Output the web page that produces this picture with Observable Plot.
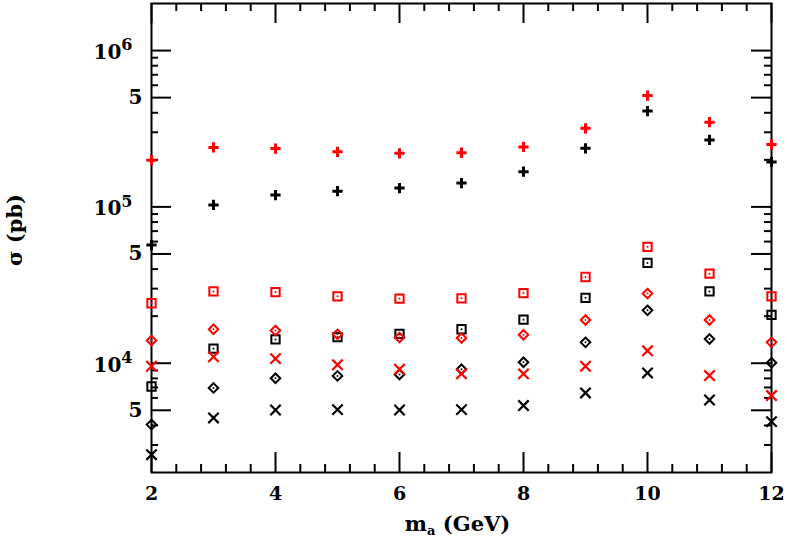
<!DOCTYPE html>
<html>
<head>
<meta charset="utf-8">
<script src="https://cdn.jsdelivr.net/npm/d3@7"></script>
<script src="https://cdn.jsdelivr.net/npm/@observablehq/plot@0.6"></script>
<style>
  html, body { margin: 0; padding: 0; background: #fff; }
  #chart svg { display: block; }
</style>
</head>
<body>
<div id="chart"></div>
<script>
// ---- data ----
const masses = [2, 3, 4, 5, 6, 7, 8, 9, 10, 11, 12];

const redPlus      = [199000, 240000, 236000, 225000, 220000, 222000, 242000, 318000, 515000, 348000, 251000];
const blackPlus    = [57000, 103000, 119000, 126000, 132000, 142000, 168000, 237000, 410000, 268000, 194000];
const redSquare    = [24200, 28800, 28500, 26800, 25900, 26000, 28100, 35600, 55500, 37400, 26800];
const blackSquare  = [7100, 12400, 14200, 14700, 15400, 16500, 19000, 26200, 43800, 28800, 20400];
const redDiamond   = [13970, 16500, 16200, 15300, 14600, 14500, 15200, 18900, 27900, 18900, 13600];
const blackDiamond = [4050, 6950, 8010, 8300, 8470, 9150, 10150, 13600, 21800, 14300, 10060];
const redTimes     = [9570, 11000, 10700, 9770, 9150, 8550, 8550, 9570, 12000, 8340, 6210];
const blackTimes   = [2600, 4470, 5020, 5050, 5020, 5050, 5360, 6460, 8670, 5820, 4230];

// ---- ticks ----
const xMajorTicks = [2, 4, 6, 8, 10, 12];
const xMinorTicks = [2.4, 2.8, 3.2, 3.6, 4.4, 4.8, 5.2, 5.6, 6.4, 6.8, 7.2, 7.6,
                     8.4, 8.8, 9.2, 9.6, 10.4, 10.8, 11.2, 11.6];
const yDecadeTicks = [1e4, 1e5, 1e6];
const yFiveTicks = [5e3, 5e4, 5e5];
const yMinorTicks = [3e3, 4e3, 6e3, 7e3, 8e3, 9e3,
                     2e4, 3e4, 4e4, 6e4, 7e4, 8e4, 9e4,
                     2e5, 3e5, 4e5, 6e5, 7e5, 8e5, 9e5];
const yMajorTicks = yDecadeTicks.concat(yFiveTicks);

const xLabel = "m|a| (GeV)";
const yLabel = "σ (pb)";

// ---- series table ----
const series = [
  {values: redPlus, color: "#ff0000", kind: "plus"},
  {values: blackPlus, color: "#000000", kind: "plus"},
  {values: redSquare, color: "#ff0000", kind: "square"},
  {values: blackSquare, color: "#000000", kind: "square"},
  {values: redDiamond, color: "#ff0000", kind: "diamond"},
  {values: blackDiamond, color: "#000000", kind: "diamond"},
  {values: redTimes, color: "#ff0000", kind: "times"},
  {values: blackTimes, color: "#000000", kind: "times"}
];

function seriesMarks(s) {
  const rows = s.values.map((v, i) => ({x: masses[i], y: v}));
  const o = {x: "x", y: "y"};
  if (s.kind === "plus") {
    return [Plot.dot(rows, {...o, symbol: "plus", r: 3.4, stroke: s.color, fill: "none", strokeWidth: 3})];
  }
  if (s.kind === "square") {
    return [
      Plot.dot(rows, {...o, symbol: "square2", r: 5.3, stroke: s.color, fill: "none", strokeWidth: 2}),
      Plot.dot(rows, {...o, r: 1, fill: s.color, stroke: "none"})
    ];
  }
  if (s.kind === "diamond") {
    return [
      Plot.dot(rows, {...o, symbol: "diamond2", r: 4.3, stroke: s.color, fill: "none", strokeWidth: 2}),
      Plot.dot(rows, {...o, r: 1, fill: s.color, stroke: "none"})
    ];
  }
  return [Plot.dot(rows, {...o, symbol: "times", r: 4.8, stroke: s.color, fill: "none", strokeWidth: 2.2})];
}

const W = 787, H = 540, ML = 151, MR = 16, MT = 3, MB = 68;
const FW = W - ML - MR, FH = H - MT - MB;
const xDomain = [2, 12], yDomain = [2000, 2e6];
// convert a tick length in pixels into data units along each axis
const xLen = px => px * (xDomain[1] - xDomain[0]) / FW;
const yFac = px => Math.pow(10, px * Math.log10(yDomain[1] / yDomain[0]) / FH);
const tk = {stroke: "#000", strokeWidth: 2};

function yTicks(values, px) {
  return [
    Plot.ruleY(values, {y: d => d, x1: () => xDomain[0], x2: () => xDomain[0] + xLen(px), ...tk}),
    Plot.ruleY(values, {y: d => d, x1: () => xDomain[1] - xLen(px), x2: () => xDomain[1], ...tk})
  ];
}
function xTicks(values, px) {
  return [
    Plot.ruleX(values, {x: d => d, y1: () => yDomain[0], y2: () => yDomain[0] * yFac(px), ...tk}),
    Plot.ruleX(values, {x: d => d, y1: () => yDomain[1] / yFac(px), y2: () => yDomain[1], ...tk})
  ];
}

const chart = Plot.plot({
  width: W,
  height: H,
  marginLeft: ML,
  marginRight: MR,
  marginTop: MT,
  marginBottom: MB,
  style: {fontFamily: "'DejaVu Serif', serif", fontWeight: "bold", fontSize: "19px", color: "#000", background: "#fff"},
  x: {domain: xDomain, axis: null},
  y: {type: "log", domain: yDomain, axis: null},
  marks: [
    // inward ticks on all four sides
    ...yTicks(yMajorTicks, 20),
    ...yTicks(yMinorTicks, 7),
    ...xTicks(xMajorTicks, 20),
    ...xTicks(xMinorTicks, 8),
    // tick labels
    Plot.text(xMajorTicks, {x: d => d, frameAnchor: "bottom", dy: 21, lineAnchor: "middle", textAnchor: "middle",
      text: d => String(d), fontSize: 19}),
    Plot.text(yDecadeTicks, {y: d => d, frameAnchor: "left", dx: -19, dy: 2, textAnchor: "end", lineAnchor: "middle",
      text: d => "10^" + Math.round(Math.log10(d)), fontSize: 20}),
    Plot.text(yFiveTicks, {y: d => d, frameAnchor: "left", dx: -9, textAnchor: "end", lineAnchor: "middle",
      text: () => "5", fontSize: 20}),
    Plot.frame({stroke: "#000", strokeWidth: 2}),
    // axis titles
    Plot.text([xLabel], {text: d => d, frameAnchor: "bottom", dy: 52, dx: -4, textAnchor: "middle", lineAnchor: "middle",
      fontSize: 21, fontWeight: "bold"}),
    Plot.text([yLabel], {text: d => d, frameAnchor: "left", dx: -136, dy: -8, rotate: -90,
      textAnchor: "middle", lineAnchor: "middle", fontSize: 21, fontWeight: "bold"}),
    // data
    ...series.flatMap(seriesMarks)
  ]
});

// superscripts / subscripts as real text
chart.querySelectorAll("text").forEach(t => {
  const s = t.textContent;
  let m = /^10\^(\d+)$/.exec(s);
  if (m) {
    t.textContent = "";
    t.appendChild(document.createTextNode("10"));
    const sup = document.createElementNS("http://www.w3.org/2000/svg", "tspan");
    sup.setAttribute("dy", "-0.55em");
    sup.setAttribute("font-size", "16");
    sup.textContent = m[1];
    t.appendChild(sup);
    return;
  }
  m = /^(.*)\|(.*)\|(.*)$/.exec(s);
  if (m) {
    t.textContent = "";
    t.appendChild(document.createTextNode(m[1]));
    const sub = document.createElementNS("http://www.w3.org/2000/svg", "tspan");
    sub.setAttribute("dy", "4");
    sub.setAttribute("font-size", "13");
    sub.textContent = m[2];
    t.appendChild(sub);
    const rest = document.createElementNS("http://www.w3.org/2000/svg", "tspan");
    rest.setAttribute("dy", "-4");
    rest.textContent = m[3];
    t.appendChild(rest);
  }
});

document.getElementById("chart").appendChild(chart);
</script>
</body>
</html>
